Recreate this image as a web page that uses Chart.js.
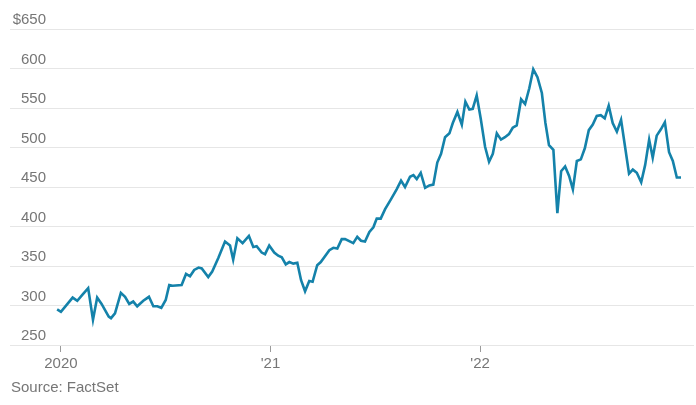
<!DOCTYPE html>
<html>
<head>
<meta charset="utf-8">
<script src="https://cdn.jsdelivr.net/npm/chart.js@4/dist/chart.umd.min.js"></script>
<style>
    html, body { margin: 0; padding: 0; background: #fff; }
    #wrap { position: relative; width: 696px; height: 405px; }
    .source { position: absolute; left: 11px; top: 378px; font: 15px "Liberation Sans", Arial, sans-serif; color: #767676; }
</style>
</head>
<body>
<div id="wrap">
    <canvas id="price-chart" width="696" height="405"></canvas>
    <div class="source">Source: FactSet</div>
</div>
<script>
// Weekly closing price (x = fractional year)
const weekDates = [
    2019.982, 2020.000, 2020.056, 2020.078, 2020.104, 2020.130, 2020.153, 2020.173, 2020.194, 2020.228,
    2020.239, 2020.258, 2020.286, 2020.306, 2020.326, 2020.345, 2020.364, 2020.393, 2020.420, 2020.441,
    2020.460, 2020.479, 2020.500, 2020.517, 2020.533, 2020.576, 2020.597, 2020.616, 2020.636, 2020.657,
    2020.672, 2020.703, 2020.722, 2020.751, 2020.783, 2020.807, 2020.822, 2020.842, 2020.867, 2020.897,
    2020.918, 2020.934, 2020.958, 2020.974, 2020.994, 2021.018, 2021.037, 2021.054, 2021.073, 2021.090,
    2021.109, 2021.128, 2021.146, 2021.165, 2021.185, 2021.201, 2021.223, 2021.240, 2021.281, 2021.300,
    2021.319, 2021.340, 2021.356, 2021.395, 2021.414, 2021.432, 2021.451, 2021.472, 2021.491, 2021.507,
    2021.526, 2021.547, 2021.574, 2021.602, 2021.623, 2021.642, 2021.666, 2021.682, 2021.698, 2021.717,
    2021.738, 2021.758, 2021.777, 2021.796, 2021.814, 2021.833, 2021.854, 2021.870, 2021.892, 2021.913,
    2021.930, 2021.949, 2021.965, 2021.984, 2022.003, 2022.024, 2022.043, 2022.061, 2022.080, 2022.100,
    2022.119, 2022.138, 2022.156, 2022.175, 2022.196, 2022.215, 2022.235, 2022.254, 2022.274, 2022.295,
    2022.312, 2022.329, 2022.350, 2022.369, 2022.387, 2022.406, 2022.425, 2022.443, 2022.462, 2022.481,
    2022.500, 2022.519, 2022.538, 2022.557, 2022.576, 2022.595, 2022.614, 2022.633, 2022.653, 2022.673,
    2022.692, 2022.711, 2022.729, 2022.748, 2022.769, 2022.788, 2022.807, 2022.824, 2022.843, 2022.863,
    2022.882, 2022.902, 2022.920, 2022.939, 2022.959
];
const weekPrices = [
    295, 292, 310, 306, 314, 322, 282, 310, 302, 286,
    284, 290, 316, 311, 302, 305, 299, 306, 311, 299,
    299, 297, 307, 326, 325, 326, 340, 337, 345, 348,
    347, 336, 343, 360, 381, 376, 358, 385, 379, 388,
    374, 375, 367, 365, 376, 367, 363, 361, 352, 355,
    353, 354, 332, 318, 331, 330, 351, 355, 370, 373,
    372, 384, 384, 379, 387, 382, 381, 393, 399, 410,
    410, 422, 434, 447, 458, 450, 463, 465, 460, 468,
    449, 452, 453, 481, 492, 513, 518, 531, 545, 529,
    558, 548, 549, 566, 537, 501, 482, 492, 518, 510,
    513, 517, 525, 528, 561, 555, 575, 599, 589, 569,
    531, 503, 497, 417, 470, 476, 464, 447, 483, 485,
    499, 522, 529, 540, 541, 537, 553, 531, 520, 535,
    501, 467, 472, 468, 456, 478, 510, 487, 515, 523,
    532, 494, 483, 462, 462
];

const yearTicks = [2020, 2021, 2022];
const yearLabels = ['2020', "'21", "'22"];
const priceTicks = [250, 300, 350, 400, 450, 500, 550, 600, 650];

const points = weekDates.map((d, i) => ({ x: d, y: weekPrices[i] }));

const labelFont = '15px "Liberation Sans", Arial, sans-serif';
const gray = '#767676';

// y labels sit above each gridline, right aligned
const yLabelPlugin = {
    id: 'yLabels',
    afterDraw(chart) {
        const ctx = chart.ctx;
        const y = chart.scales.y;
        ctx.save();
        ctx.font = labelFont;
        ctx.fillStyle = gray;
        ctx.textAlign = 'right';
        ctx.textBaseline = 'alphabetic';
        priceTicks.forEach(v => {
            const text = v === 650 ? '$' + v : String(v);
            ctx.fillText(text, 46, y.getPixelForValue(v) - 5);
        });
        ctx.restore();
    }
};

var ctx = document.getElementById('price-chart');
var priceChart = new Chart(ctx, {
    type: 'line',
    data: {
        datasets: [{
            data: points,
            borderColor: '#1482aa',
            borderWidth: 2.6,
            pointRadius: 0,
            tension: 0,
            fill: false
        }]
    },
    options: {
        responsive: false,
        animation: false,
        layout: { padding: { top: 29, left: 10, right: 2, bottom: 0 } },
        plugins: { legend: { display: false }, tooltip: { enabled: false } },
        scales: {
            x: {
                type: 'linear',
                min: 2019.757,
                max: 2023.021,
                afterBuildTicks: (scale) => { scale.ticks = yearTicks.map(v => ({ value: v })); },
                afterFit: (scale) => { scale.height = 60; },
                ticks: {
                    font: { family: '"Liberation Sans", Arial, sans-serif', size: 15 },
                    color: gray,
                    padding: 3,
                    maxRotation: 0,
                    callback: (v) => yearLabels[yearTicks.indexOf(v)]
                },
                grid: { drawOnChartArea: false, drawTicks: true, tickLength: 7, color: '#9a9a9a' },
                border: { display: false }
            },
            y: {
                min: 250,
                max: 650,
                afterBuildTicks: (scale) => { scale.ticks = priceTicks.map(v => ({ value: v })); },
                afterFit: (scale) => { scale.width = 0; },
                ticks: { display: false },
                grid: { color: '#e6e6e6', drawTicks: false },
                border: { display: false }
            }
        }
    },
    plugins: [yLabelPlugin]
});
</script>
</body>
</html>
